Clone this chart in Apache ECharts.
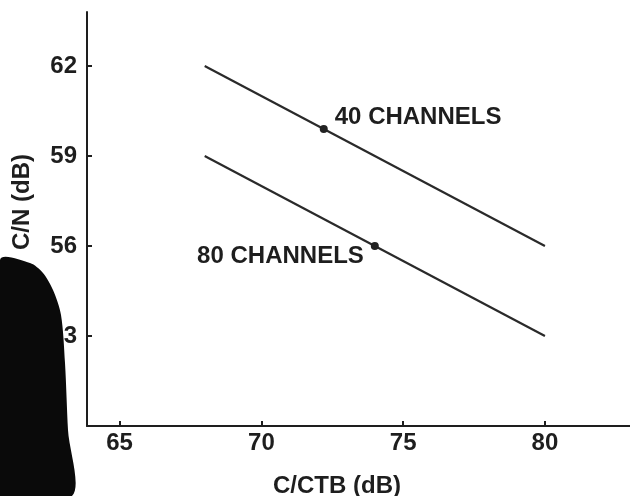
<!DOCTYPE html>
<html>
<head>
<meta charset="utf-8">
<script src="https://cdn.jsdelivr.net/npm/echarts@6/dist/echarts.min.js"></script>
<style>
html,body{margin:0;padding:0;background:#fff;}
#c{width:630px;height:496px;}
</style>
</head>
<body>
<div id="c"></div>
<script>
var xTicks = [65, 70, 75, 80];
var yTicks = [53, 56, 59, 62];
var line40 = [[68, 62], [80, 56]];
var line80 = [[68, 59], [80, 53]];
var point40 = [72.2, 59.9];
var point80 = [74, 56];
var label40 = '40 CHANNELS';
var label80 = '80 CHANNELS';
var xName = 'C/CTB (dB)';
var yName = 'C/N (dB)';

var FONT = '"Liberation Sans", Arial, sans-serif';
var INK = '#1e1e1e';
var labelStyle = {show: true, color: INK, fontFamily: FONT, fontSize: 24, fontWeight: 'bold'};
var chart = echarts.init(document.getElementById('c'));
chart.setOption({
  backgroundColor: '#ffffff',
  animation: false,
  grid: {left: 87, right: 0, top: 12, bottom: 70},
  xAxis: {
    type: 'value', min: 63.85, max: 83,
    interval: 5,
    axisLine: {show: true, onZero: false, lineStyle: {color: INK, width: 2}},
    axisTick: {show: true, inside: true, length: 5, lineStyle: {color: INK, width: 2},
      customValues: xTicks},
    axisLabel: {color: INK, fontFamily: FONT, fontSize: 24, fontWeight: 'bold', margin: 5,
      customValues: xTicks},
    splitLine: {show: false}
  },
  yAxis: {
    type: 'value', min: 50, max: 63.8,
    axisLine: {show: true, onZero: false, lineStyle: {color: INK, width: 2}},
    axisTick: {show: true, inside: true, length: 5, lineStyle: {color: INK, width: 2},
      customValues: yTicks},
    axisLabel: {color: INK, fontFamily: FONT, fontSize: 24, fontWeight: 'bold', margin: 10,
      customValues: yTicks},
    splitLine: {show: false}
  },
  series: [
    {type: 'line', data: line40, showSymbol: false, lineStyle: {color: '#2a2a2a', width: 2.2}, z: 2},
    {type: 'line', data: line80, showSymbol: false, lineStyle: {color: '#2a2a2a', width: 2.2}, z: 2},
    {type: 'scatter', symbolSize: 8, itemStyle: {color: '#222', opacity: 1}, z: 3,
      emphasis: {disabled: true},
      data: [
        {value: point40, label: Object.assign({}, labelStyle, {formatter: label40, position: 'right', offset: [2, -12]})},
        {value: point80, label: Object.assign({}, labelStyle, {formatter: label80, position: 'left', offset: [-2, 10]})}
      ]
    }
  ],
  graphic: [
    {type: 'text', z: 5, x: 337, y: 486,
      style: {text: xName, fill: INK, font: 'bold 24px ' + FONT, align: 'center', verticalAlign: 'middle'}},
    {type: 'text', z: 5, x: 22, y: 202, rotation: Math.PI / 2,
      style: {text: yName, fill: INK, font: 'bold 24px ' + FONT, align: 'center', verticalAlign: 'middle'}},
    {type: 'polygon', z: 10,
      shape: {smooth: 0.3, points: [[0,260],[30,263],[43,273],[53,290],[61,315],[65,363],[68,430],[72,496],[0,496]]},
      style: {fill: '#0a0a0a'}}
  ]
});
</script>
</body>
</html>
